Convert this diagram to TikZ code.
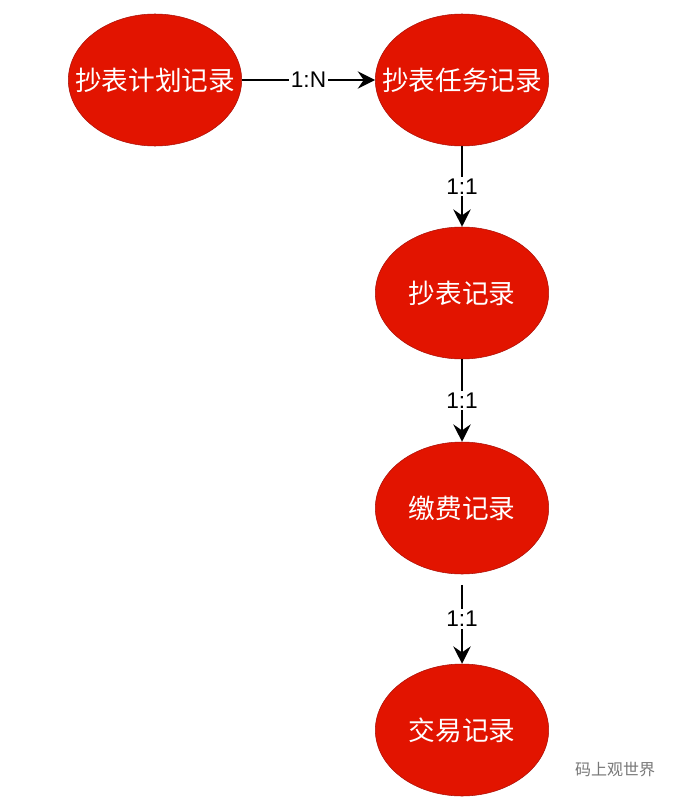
\documentclass[tikz,border=0pt]{standalone}
\usepackage{fontspec}
\setmainfont{Liberation Sans}
\newfontfamily\cjk{Noto Sans CJK SC}
\usetikzlibrary{arrows.meta,shapes.geometric}
\definecolor{recfill}{RGB}{226,20,0}
\definecolor{recedge}{RGB}{170,16,8}
\definecolor{markgray}{RGB}{120,120,120}

\begin{document}
\begin{tikzpicture}[x=0.75pt,y=-0.75pt,
  record/.style={ellipse, draw=recedge, fill=recfill, minimum width=130pt,
    minimum height=99pt, inner sep=0pt},
  rectext/.style={text=white, inner sep=0pt,
    font=\cjk\fontsize{20}{20}\selectfont},
  rel/.style={-{Stealth[length=13pt,width=13pt,inset=4.5pt]}, line width=1.3pt},
  card/.style={fill=white, inner sep=1.5pt, font=\fontsize{17}{17}\selectfont}]
\useasboundingbox (0,0) rectangle (675,799);
% Records
\node[record, label={[rectext]center:抄表计划记录}] (plan) at (155,80) {};
\node[record, label={[rectext]center:抄表任务记录}] (task) at (462,80) {};
\node[record, label={[rectext]center:抄表记录}] (reading) at (462,293) {};
\node[record, label={[rectext]center:缴费记录}] (payment) at (462,508) {};
\node[record, label={[rectext]center:交易记录}] (trade) at (462,730) {};
% Relations
\draw[rel] (plan) -- node[card] {1:N} (task);
\draw[rel] (task) -- node[card] {1:1} (reading);
\draw[rel] (reading) -- node[card] {1:1} (payment);
\draw[rel, shorten <=8pt] (payment) -- node[card] {1:1} (trade);
% Source mark
\node[markgray, font=\cjk\fontsize{12}{12}\selectfont] (mark) at (615,769) {码上观世界};
\end{tikzpicture}
\end{document}
